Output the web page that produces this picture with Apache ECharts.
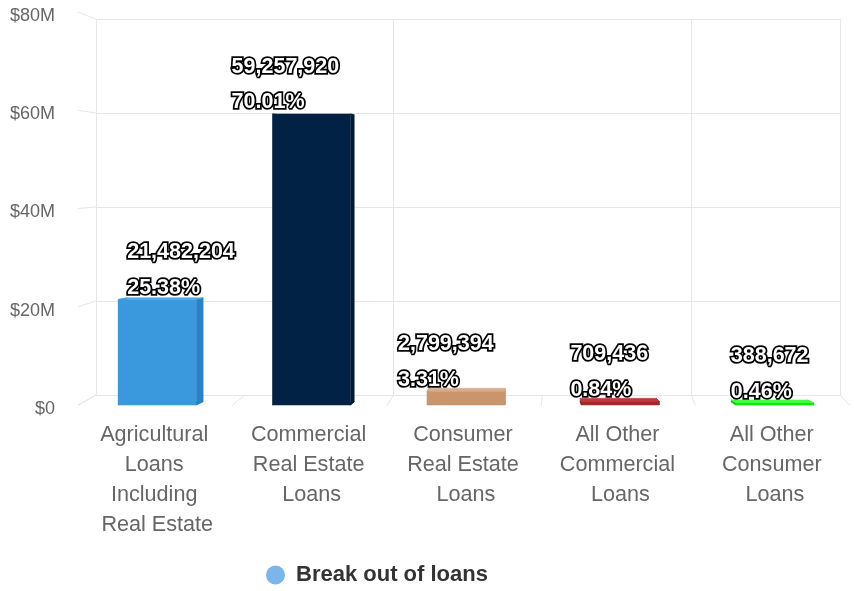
<!DOCTYPE html>
<html>
<head>
<meta charset="utf-8">
<script src="https://cdn.jsdelivr.net/npm/echarts@6/dist/echarts.min.js"></script>
<style>
  html, body { margin: 0; padding: 0; background: #fff; }
  #chart { width: 854px; height: 591px; }
</style>
</head>
<body>
<div id="chart"></div>
<script>
// Loan portfolio breakdown
const categories = [
  'Agricultural Loans Including Real Estate',
  'Commercial Real Estate Loans',
  'Consumer Real Estate Loans',
  'All Other Commercial Loans',
  'All Other Consumer Loans'
];
const loanAmounts = [21482204, 59257920, 2799394, 709436, 388672];
const yTickValues = [0, 20000000, 40000000, 60000000, 80000000];
const yTickLabels = ['$0', '$20M', '$40M', '$60M', '$80M'];
const seriesName = 'Break out of loans';

// Face colours of each column: front, side, top
const frontColors = ['#3a98dc', '#012244', '#c8956c', '#a3292b', '#14e614'];
const sideColors  = ['#2a82c6', '#001a36', '#b5815a', '#8c2022', '#0cc00c'];
const topColors   = ['#4fa7e6', '#0a2d52', '#d9ac88', '#bb3c3c', '#44ff44'];
// Horizontal shift of each two-line value label (from the column centre)
const labelDx = [-30, -80, -68, -50, -44];

// Simple perspective: points recede towards (CX, CY)
const CX = 521, CY = 174;
const WALL_SX = 0.036, WALL_SY = 0.0433;   // back wall depth
const BAR_SX = 0.0215, BAR_SY = 0.014;     // column depth

const FONT = '"Liberation Sans", Arial, Helvetica, sans-serif';
const GRID_COLOR = '#e6e6e6';

const total = loanAmounts.reduce((a, b) => a + b, 0);

const front = { left: 80, right: 2, top: 12, bottom: 186 };
const frontW = 854 - front.left - front.right;
const frontH = 591 - front.top - front.bottom;
const fx0 = front.left, fx1 = front.left + frontW, fy0 = front.top, fy1 = front.top + frontH;
const back = {
  left: fx0 + (CX - fx0) * WALL_SX,
  right: 854 - (fx1 - (fx1 - CX) * WALL_SX),
  top: fy0 + (CY - fy0) * WALL_SY,
  bottom: 591 - (fy1 - (fy1 - CY) * WALL_SY)
};

function recede(x, y, sx, sy) {
  return [x + (CX - x) * sx, y + (CY - y) * sy];
}

function renderColumn(params, api) {
  const i = params.dataIndex;
  const v = api.value(1);
  const base = api.coord([i, 0]);
  const top = api.coord([i, v]);
  const bw = api.size([1, 0])[0] * 0.505;
  const x0 = base[0] - bw / 2, x1 = base[0] + bw / 2;
  const yb = base[1], yt = top[1];
  const F = [[x0, yt], [x1, yt], [x1, yb], [x0, yb]];
  const B = F.map(p => recede(p[0], p[1], BAR_SX, BAR_SY));
  const poly = (pts, fill) => ({ type: 'polygon', shape: { points: pts }, style: { fill: fill, stroke: fill, lineWidth: 0.5 } });
  const labelStyle = (text, y) => ({
    type: 'text',
    z2: 10,
    style: {
      text: text,
      x: base[0] + labelDx[i],
      y: y,
      align: 'left',
      verticalAlign: 'middle',
      font: 'bold 21.5px ' + FONT,
      fill: '#ffffff',
      stroke: '#000000',
      lineWidth: 3.5
    }
  });
  return {
    type: 'group',
    children: [
      poly([F[3], F[2], B[2], B[3]], sideColors[i]),
      poly([F[0], F[3], B[3], B[0]], sideColors[i]),
      poly([F[1], F[2], B[2], B[1]], sideColors[i]),
      poly([F[0], F[1], B[1], B[0]], topColors[i]),
      { type: 'rect', shape: { x: x0, y: yt, width: x1 - x0, height: yb - yt }, style: { fill: frontColors[i] } },
      labelStyle(loanAmounts[i].toLocaleString('en-US'), yt - 47),
      labelStyle((loanAmounts[i] / total * 100).toFixed(2) + '%', yt - 11.5)
    ]
  };
}

// Slanted links from the front axis to the back wall
function renderTickLink(params, api) {
  const cs = params.coordSys;
  const y = api.coord([0, api.value(0)])[1];
  const b = recede(cs.x, y, WALL_SX, WALL_SY);
  return { type: 'line', shape: { x1: cs.x - 2, y1: y, x2: b[0], y2: b[1] }, style: { stroke: GRID_COLOR, lineWidth: 1 } };
}
function renderFloorLink(params, api) {
  const cs = params.coordSys;
  const k = params.dataIndex;
  const x = cs.x + k * cs.width / categories.length;
  const y = cs.y + cs.height;
  const b = recede(x, y, WALL_SX, WALL_SY);
  return { type: 'line', shape: { x1: x - 2, y1: y + 0.5, x2: b[0], y2: b[1] }, style: { stroke: GRID_COLOR, lineWidth: 1 } };
}

const chart = echarts.init(document.getElementById('chart'), null, { renderer: 'canvas' });
chart.setOption({
  animation: false,
  backgroundColor: '#ffffff',
  legend: {
    data: [{ name: seriesName, icon: 'circle', itemStyle: { color: '#7cb5ec' } }],
    left: 261,
    top: 559,
    itemWidth: 19,
    itemHeight: 19,
    itemGap: 10,
    textStyle: { fontFamily: FONT, fontWeight: 'bold', fontSize: 22, color: '#333333', padding: [0, 0, 0, 6] }
  },
  grid: [
    { left: front.left, right: front.right, top: front.top, bottom: front.bottom },
    { left: back.left, right: back.right, top: back.top, bottom: back.bottom }
  ],
  xAxis: [
    {
      type: 'category', gridIndex: 0, data: categories,
      axisLine: { show: false }, axisTick: { show: false }, splitLine: { show: false },
      axisLabel: {
        interval: 0, margin: 15, width: 135, overflow: 'break',
        fontFamily: FONT, fontSize: 21.6, color: '#666666', lineHeight: 30
      }
    },
    {
      type: 'category', gridIndex: 1, data: categories,
      axisLine: { show: false }, axisTick: { show: false }, axisLabel: { show: false },
      splitLine: { show: true, lineStyle: { color: GRID_COLOR, width: 1 } }
    }
  ],
  yAxis: [
    {
      type: 'value', gridIndex: 0, min: 0, max: 80000000, interval: 20000000,
      axisLine: { show: false }, axisTick: { show: false }, splitLine: { show: false },
      axisLabel: {
        margin: 25, color: '#666666',
        formatter: v => '{t|' + yTickLabels[yTickValues.indexOf(v)] + '}',
        rich: { t: { fontFamily: FONT, fontSize: 18, color: '#666666', padding: [8, 0, 0, 0] } }
      }
    },
    {
      type: 'value', gridIndex: 1, min: 0, max: 80000000, interval: 20000000,
      axisLine: { show: false }, axisTick: { show: false }, axisLabel: { show: false },
      splitLine: { show: true, lineStyle: { color: GRID_COLOR, width: 1 } }
    }
  ],
  series: [
    {
      name: 'axisLinks', type: 'custom', xAxisIndex: 0, yAxisIndex: 0, silent: true, z: 1,
      data: yTickValues.map(v => [v]), encode: { y: 0 },
      renderItem: renderTickLink
    },
    {
      name: 'floorLinks', type: 'custom', xAxisIndex: 0, yAxisIndex: 0, silent: true, z: 1,
      data: Array.from({ length: categories.length + 1 }, (_, k) => [k]),
      renderItem: renderFloorLink
    },
    {
      name: seriesName, type: 'custom', xAxisIndex: 0, yAxisIndex: 0, z: 3,
      itemStyle: { color: '#7cb5ec' },
      data: loanAmounts.map((v, i) => [i, v]),
      encode: { x: 0, y: 1 },
      renderItem: renderColumn
    }
  ]
});
</script>
</body>
</html>
